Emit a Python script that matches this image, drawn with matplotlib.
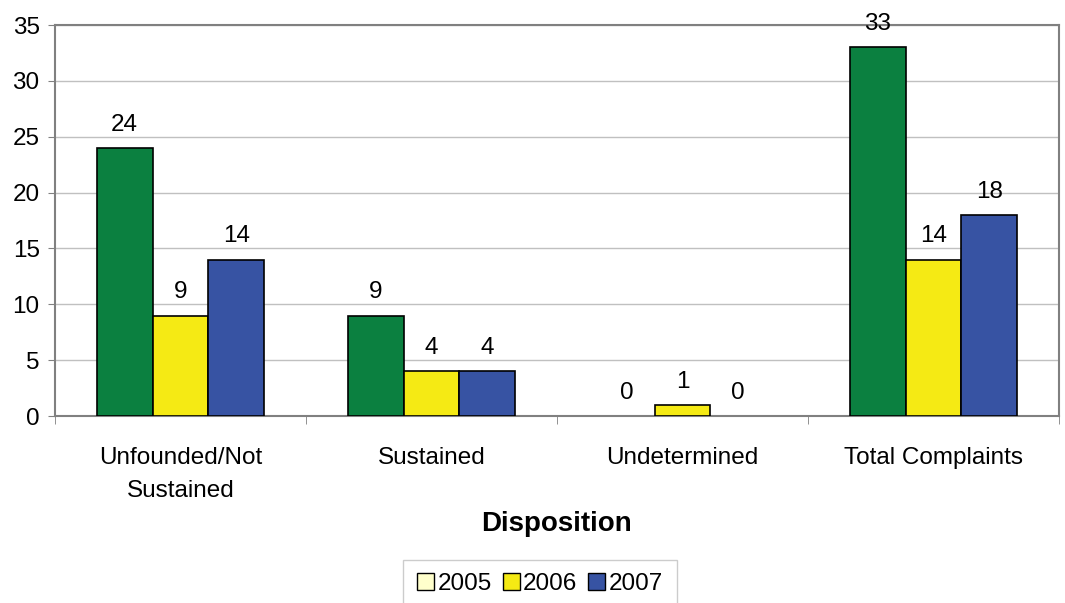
import matplotlib.pyplot as plt
import numpy as np
from matplotlib.patches import Patch

categories = ['Unfounded/Not\nSustained', 'Sustained', 'Undetermined', 'Total Complaints']
years = ['2005', '2006', '2007']
v2005 = [24, 9, 0, 33]
v2006 = [9, 4, 1, 14]
v2007 = [14, 4, 0, 18]

bar_colors = ['#0b8040', '#f5ea14', '#3753a3']
legend_colors = ['#ffffcc', '#f5ea14', '#3753a3']

plt.rcParams['font.family'] = 'Liberation Sans'

fig = plt.figure(figsize=(10.65, 6.03), dpi=100)
ax = fig.add_axes([0.0516, 0.310, 0.9427, 0.6485])

x = np.arange(len(categories))
w = 0.222
for i, vals in enumerate([v2005, v2006, v2007]):
    pos = x + (i - 1) * w
    lw = [1.2 if v > 0 else 0 for v in vals]
    ax.bar(pos, vals, w, color=bar_colors[i], edgecolor='black', linewidth=lw, zorder=3)
    for p, v in zip(pos, vals):
        ax.text(p, v + 1.1, str(v), ha='center', va='bottom', fontsize=17.5)

ax.set_xlim(-0.5, 3.5)
ax.set_ylim(0, 35)
ax.set_yticks(range(0, 36, 5))
ax.yaxis.grid(True, color='#c0c0c0', linewidth=1, zorder=0)
ax.tick_params(axis='y', labelsize=17.5, length=5, color='#808080', pad=6)
ax.set_xticks(x)
ax.set_xticklabels(categories, fontsize=17.5, linespacing=1.65)
ax.set_xticks(np.arange(-0.5, 4.0, 1), minor=True)
ax.tick_params(axis='x', which='major', length=0, pad=22)
ax.tick_params(axis='x', which='minor', length=6, color='#808080')
for s in ax.spines.values():
    s.set_color('#808080')
    s.set_linewidth(1.5)

ax.set_xlabel('Disposition', fontsize=20, fontweight='bold', labelpad=7)

handles = [Patch(facecolor=c, edgecolor='black', label=y) for c, y in zip(legend_colors, years)]
leg = fig.legend(handles=handles, loc='upper center', bbox_to_anchor=(0.507, 0.0713),
                 ncol=3, fontsize=17.5, frameon=True, fancybox=False,
                 handlelength=0.7, handleheight=0.7, handletextpad=0.15,
                 columnspacing=0.45, borderpad=0.55, borderaxespad=0)
leg.get_frame().set_edgecolor('#c0c0c0')
leg.get_frame().set_linewidth(1)

fig.savefig('out.png', dpi=100)
